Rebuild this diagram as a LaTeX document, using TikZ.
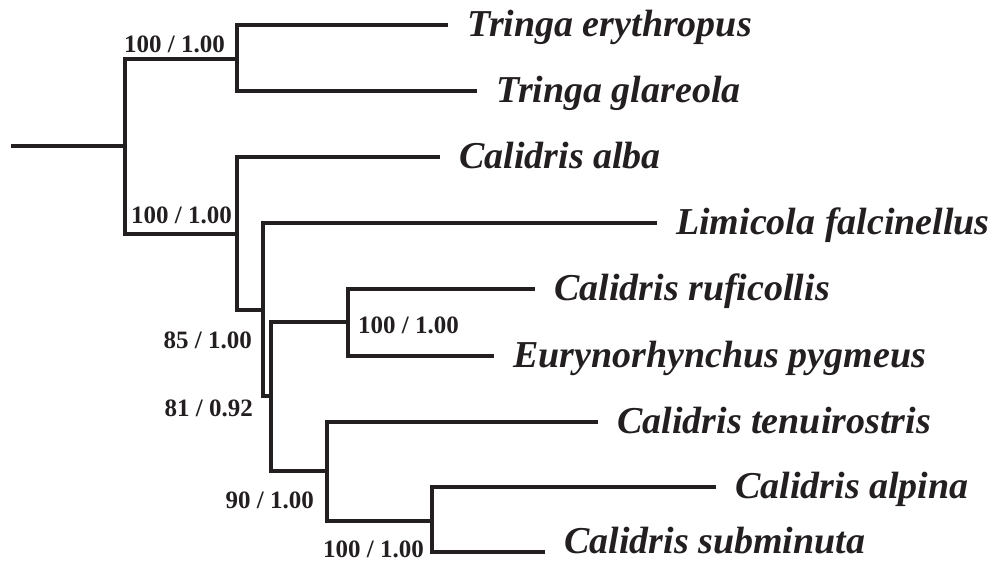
\documentclass[tikz,border=0pt]{standalone}
\usepackage{fontspec}
\setmainfont{Liberation Serif}
\usepackage{xcolor}
\usepackage{tikz}
\usetikzlibrary{positioning, calc}
\definecolor{treeink}{RGB}{35, 31, 32}

\tikzset{
    branch/.style={line width=3.6pt, treeink, line cap=rect},
    taxon/.style={anchor=base west, inner sep=0pt, xshift=21pt, yshift=-11pt, text=treeink,
        font=\fontsize{38}{42}\selectfont\bfseries\itshape},
    support/.style={inner sep=0pt, text=treeink, font=\fontsize{25}{28}\selectfont\bfseries}
}

\begin{document}
\begin{tikzpicture}[x=1pt, y=-1pt]
        \useasboundingbox (0,0) rectangle (1004,563);

        % Internal nodes (x of the vertical bar, y where the parent branch arrives)
        \coordinate (root) at (13,146);
        \coordinate (n0) at (125,146);
        \coordinate (n1) at (237,59);
        \coordinate (n2) at (237,234);
        \coordinate (n3) at (263,310);
        \coordinate (n4) at (271,396);
        \coordinate (n5) at (348,322);
        \coordinate (n6) at (327,471);
        \coordinate (n7) at (432,521);

        % Tips
        \coordinate (te) at (446,25);
        \coordinate (tg) at (475,91);
        \coordinate (ca) at (438,157);
        \coordinate (lf) at (655,223);
        \coordinate (cr) at (533,289);
        \coordinate (ep) at (492,356);
        \coordinate (ct) at (596,422);
        \coordinate (cp) at (714,487);
        \coordinate (cs) at (543,552);

        % Branches
        \draw[branch] (root) -- (n0);
        \draw[branch] (n0) |- (n1);
        \draw[branch] (n0) |- (n2);
        \draw[branch] (n1) |- (te);
        \draw[branch] (n1) |- (tg);
        \draw[branch] (n2) |- (ca);
        \draw[branch] (n2) |- (n3);
        \draw[branch] (n3) |- (lf);
        \draw[branch] (n3) |- (n4);
        \draw[branch] (n4) |- (n5);
        \draw[branch] (n4) |- (n6);
        \draw[branch] (n5) |- (cr);
        \draw[branch] (n5) |- (ep);
        \draw[branch] (n6) |- (ct);
        \draw[branch] (n6) |- (n7);
        \draw[branch] (n7) |- (cp);
        \draw[branch] (n7) |- (cs);

        % Taxa
        \node[taxon] (lte) at (te) {Tringa erythropus};
        \node[taxon] (ltg) at (tg) {Tringa glareola};
        \node[taxon] (lca) at (ca) {Calidris alba};
        \node[taxon] (llf) at (lf) {Limicola falcinellus};
        \node[taxon] (lcr) at (cr) {Calidris ruficollis};
        \node[taxon] (lep) at (ep) {Eurynorhynchus pygmeus};
        \node[taxon] (lct) at (ct) {Calidris tenuirostris};
        \node[taxon] (lcp) at (cp) {Calidris alpina};
        \node[taxon, yshift=10pt, text depth=0pt] (lcs) at (cs) {Calidris subminuta};

        % Bootstrap / posterior support
        \node[support, anchor=base east] (s1) at (225,52) {100 / 1.00};
        \node[support, anchor=base east] (s2) at (232,223) {100 / 1.00};
        \node[support, anchor=base east] (s3) at (252,348) {85 / 1.00};
        \node[support, anchor=base east] (s4) at (253,416) {81 / 0.92};
        \node[support, anchor=base west] (s5) at (358,333) {100 / 1.00};
        \node[support, anchor=base east] (s6) at (314,508) {90 / 1.00};
        \node[support, anchor=base east] (s7) at (424,557) {100 / 1.00};
    \end{tikzpicture}
\end{document}
